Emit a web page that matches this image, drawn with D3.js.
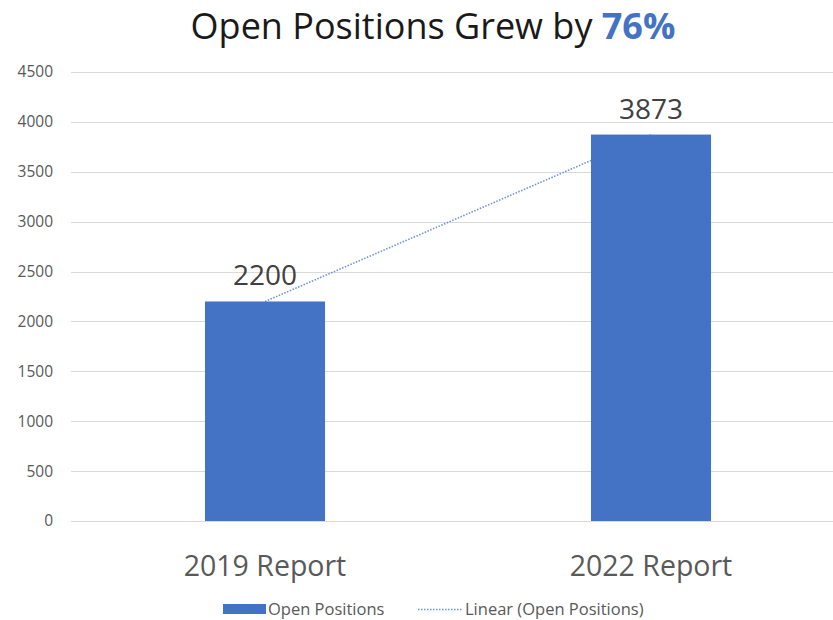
<!DOCTYPE html>
<html><head><meta charset="utf-8">
<script src="https://cdn.jsdelivr.net/npm/d3@7"></script>
<style>body{margin:0;background:#fff}svg{display:block}text{font-family:"Open Sans",sans-serif}</style>
</head><body>
<svg id="c" width="833" height="620"></svg>
<script>
const categories = ["2019 Report", "2022 Report"];
const openPositions = [2200, 3873];
const yTicks = [0, 500, 1000, 1500, 2000, 2500, 3000, 3500, 4000, 4500];
const titleMain = "Open Positions Grew by ";
const titleHighlight = "76%";
const legendLabels = ["Open Positions", "Linear (Open Positions)"];

const svg = d3.select("#c");
const blue = "#4472C4";
const x = d3.scaleBand().domain(categories).range([72, 844]).paddingInner(0.689).paddingOuter(0.3445);
const y = d3.scaleLinear().domain([0, 4500]).range([521, 72]);

// gridlines
svg.append("g").selectAll("line").data(yTicks).join("line")
  .attr("x1", 71).attr("x2", 833)
  .attr("y1", d => Math.round(y(d)) + 0.5).attr("y2", d => Math.round(y(d)) + 0.5)
  .attr("stroke", "#d9d9d9").attr("stroke-width", 1);

// y axis labels
const yAxis = d3.axisLeft(y).tickValues(yTicks).tickSize(0).tickPadding(0).tickFormat(d3.format("d"));
const ga = svg.append("g").attr("transform", "translate(53,0)").call(yAxis);
ga.select(".domain").remove();
ga.selectAll("text").attr("fill", "#595959").style("font-size", "15.5px").style("font-family", "'Open Sans',sans-serif");

// trendline (linear fit through points)
const n = openPositions.length;
const xs = d3.range(n).map(i => i + 1);
const mx = d3.mean(xs), my = d3.mean(openPositions);
const slope = d3.sum(xs.map((xi, i) => (xi - mx) * (openPositions[i] - my))) / d3.sum(xs.map(xi => (xi - mx) ** 2));
const icpt = my - slope * mx;
const trend = categories.map((c, i) => [x(c) + x.bandwidth() / 2, y(icpt + slope * xs[i])]);
svg.append("path").attr("d", d3.line()(trend)).attr("fill", "none")
  .attr("stroke", "#6f93d6").attr("stroke-width", 1.6).attr("stroke-dasharray", "1.5,1.5");

// bars
svg.append("g").selectAll("rect").data(openPositions).join("rect")
  .attr("x", (d, i) => x(categories[i])).attr("width", x.bandwidth())
  .attr("y", d => y(d)).attr("height", d => y(0) - y(d)).attr("fill", blue);

// value labels
svg.append("g").selectAll("text").data(openPositions).join("text")
  .attr("x", (d, i) => x(categories[i]) + x.bandwidth() / 2).attr("y", d => y(d) - 16)
  .attr("text-anchor", "middle").attr("fill", "#404040").style("font-size", "28px").text(d => d);

// category labels
svg.append("g").selectAll("text").data(categories).join("text")
  .attr("x", d => x(d) + x.bandwidth() / 2).attr("y", 576)
  .attr("text-anchor", "middle").attr("fill", "#595959").style("font-size", "28.5px").text(d => d);

// title
const t = svg.append("text").attr("x", 433).attr("y", 39).attr("text-anchor", "middle")
  .attr("fill", "#1a1a1a").style("font-size", "36px");
t.append("tspan").text(titleMain);
t.append("tspan").attr("fill", blue).style("font-weight", "bold").text(titleHighlight);

// legend
svg.append("rect").attr("x", 223).attr("y", 604).attr("width", 43).attr("height", 10).attr("fill", blue);
svg.append("text").attr("x", 268).attr("y", 615).attr("fill", "#595959").style("font-size", "16.5px").text(legendLabels[0]);
svg.append("line").attr("x1", 418).attr("x2", 462).attr("y1", 609.5).attr("y2", 609.5)
  .attr("stroke", "#6f93d6").attr("stroke-width", 1.6).attr("stroke-dasharray", "1.5,1.5");
svg.append("text").attr("x", 465).attr("y", 615).attr("fill", "#595959").style("font-size", "16.5px").text(legendLabels[1]);
</script>
</body></html>
